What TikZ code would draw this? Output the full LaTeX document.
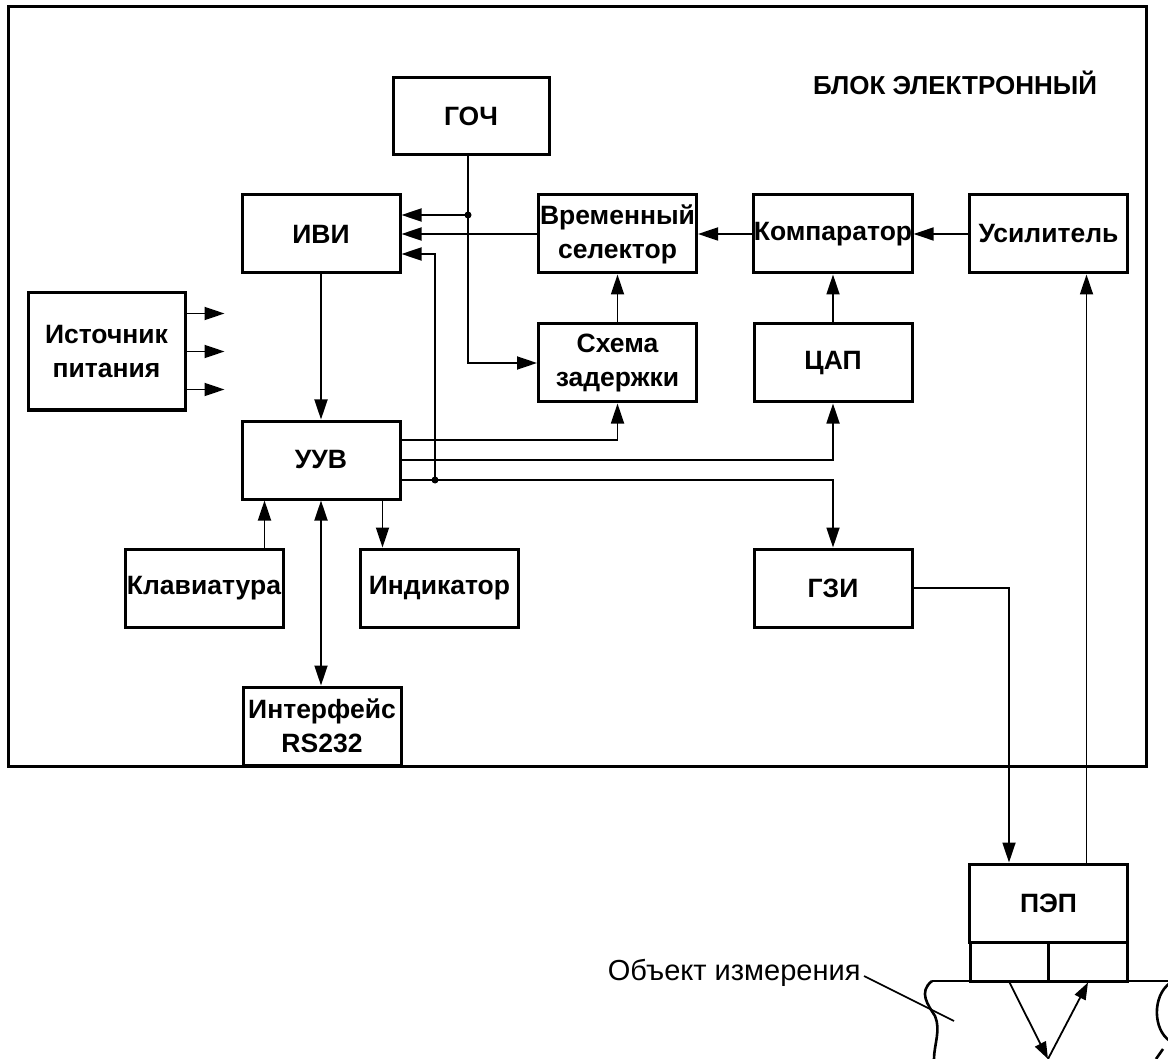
\documentclass[tikz,border=0pt]{standalone}
\usepackage{fontspec}
\setmainfont{Liberation Sans}
\usetikzlibrary{%
    arrows.meta,
    calc,
    positioning
}

\begin{document}
\begin{tikzpicture}[x=1pt, y=-1pt,
        block/.style={draw, line width=3pt, minimum width=158pt,
                      minimum height=78pt, inner sep=0pt, align=center,
                      font=\fontsize{26.5}{34}\selectfont\bfseries},
        link/.style={line width=1.8pt, -{Triangle[length=20pt,width=13pt]}},
        biglink/.style={line width=1.8pt, {Triangle[length=20pt,width=13pt]}-{Triangle[length=20pt,width=13pt]}},
        wave/.style={line width=1.8pt, -{Triangle[length=17pt,width=12pt]}},
        edge/.style={line width=2.6pt}
    ]
    \useasboundingbox (0,0) rectangle (1168,1059);

    % electronic unit
    \draw[line width=3pt] (8,7) rectangle (1146,766);
    \node[font=\fontsize{26}{30}\selectfont\bfseries] (title) at (955,83) {БЛОК ЭЛЕКТРОННЫЙ};

    \node[block, minimum width=156pt, minimum height=77pt] (goch) at (471,116.5) {ГОЧ};
    \node[block] (ivi)      at (321,234)    {ИВИ};
    \node[block] (selector) at (617.5,234)  {Временный\\селектор};
    \node[block] (comp)     at (833,234)    {Компаратор};
    \node[block] (amp)      at (1048.5,234) {Усилитель};
    \node[block] (delay)    at (617.5,363)  {Схема\\задержки};
    \node[block] (dac)      at (833,363)    {ЦАП};
    \node[block, minimum width=157pt, minimum height=117pt]
                 (power)    at (106.5,351.5) {Источник\\питания};
    \node[block] (uuv)      at (321,460)    {УУВ};
    \node[block] (keys)     at (204,588)    {Клавиатура};
    \node[block] (ind)      at (439.5,588)  {Индикатор};
    \node[block] (gzi)      at (833,588)    {ГЗИ};
    \node[block] (rs)       at (322,726)    {Интерфейс\\RS232};

    % transducer
    \node[block] (pep) at (1048.5,903) {ПЭП};
    \node[block, minimum width=78.5pt, minimum height=39pt] (crystalA) at (1009.5,961.5) {};
    \node[block, minimum width=78.5pt, minimum height=39pt] (crystalB) at (1088,961.5) {};

    % signal paths
    \coordinate (split) at (468,215);
    \draw[line width=1.8pt] (goch.south -| split) -- (split);
    \draw[link] (split) -- (split -| ivi.east);
    \draw[link] (split) |- (delay.west);
    \fill (split) circle (3.5pt);

    \draw[link] (selector.west) -- (ivi.east);
    \draw[link] (comp.west) -- (selector.east);
    \draw[link] (amp.west) -- (comp.east);
    \draw[link] (delay.north) -- (selector.south);
    \draw[link] (dac.north) -- (comp.south);
    \draw[link] (ivi.south) -- (uuv.north);

    \draw[link] ([yshift=20pt]uuv.east) -| (delay.south);
    \draw[link] (uuv.east) -| (dac.south);
    \draw[link] ([yshift=-20pt]uuv.east) -| (gzi.north);
    \coordinate (tap) at ([yshift=-20pt]uuv.east -| 435,0);
    \draw[link] (tap) |- ([yshift=-20pt]ivi.east);
    \fill (tap) circle (3.5pt);

    \draw[link] ([xshift=-20pt]keys.north east) -- ([xshift=-20pt]keys.north east |- uuv.south);
    \draw[link] ([xshift=-19pt]uuv.south east) -- ([xshift=-19pt]uuv.south east |- ind.north);
    \draw[biglink] (uuv.south) -- (uuv.south |- rs.north);

    \foreach \Shift in {38,0,-38}
        \draw[link] ([yshift=\Shift pt]power.east) -- ++(38,0);

    \draw[link] (gzi.east) -| ([xshift=-39.5pt]pep.north);
    \draw[link] ([xshift=38pt]pep.north) -- ([xshift=38pt]pep.north |- amp.south);

    % object under test
    \draw[edge] (932,981) -- (1168,981);
    \draw[edge] (932,981) .. controls (918,992) and (928,1005) .. (935,1016)
                          .. controls (941,1030) and (934,1045) .. (934,1059);
    \draw[edge] (1170,983) .. controls (1152,996) and (1153,1030) .. (1170,1041);
    \draw[edge] (1163,1049) -- (1156,1059);
    \coordinate (echo) at (1048,1059);
    \draw[wave] (crystalA.south) -- (echo);
    \draw[wave] (echo) -- (crystalB.south);

    \node[font=\fontsize{29}{34}\selectfont, anchor=east] (objlabel) at (864,973) {Объект измерения};
    \coordinate (objpoint) at (954,1021);
    \draw[line width=1.6pt] ([yshift=-3pt]objlabel.east) -- (objpoint);
\end{tikzpicture}
\end{document}
